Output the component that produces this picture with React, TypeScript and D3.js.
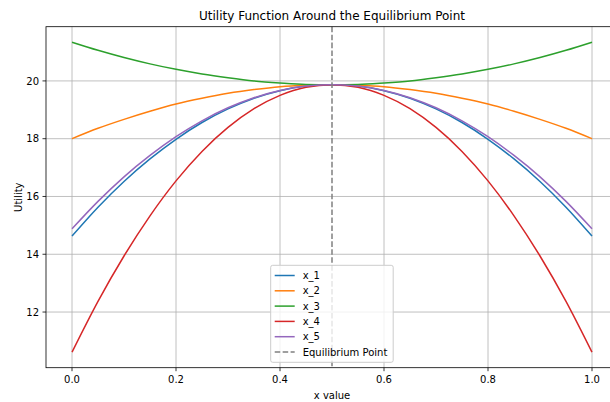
import React from "react";
import * as d3 from "d3";

const xValues = [0, 0.05, 0.1, 0.15, 0.2, 0.25, 0.3, 0.35, 0.4, 0.45, 0.5, 0.55, 0.6, 0.65, 0.7, 0.75, 0.8, 0.85, 0.9, 0.95, 1.0];

const x1 = [14.63, 15.63, 16.52, 17.30, 17.98, 18.56, 19.03, 19.40, 19.66, 19.82, 19.87, 19.82, 19.66, 19.40, 19.03, 18.56, 17.98, 17.30, 16.52, 15.63, 14.63];
const x2 = [18.00, 18.36, 18.67, 18.95, 19.20, 19.40, 19.57, 19.70, 19.80, 19.85, 19.87, 19.85, 19.80, 19.70, 19.57, 19.40, 19.20, 18.95, 18.67, 18.36, 18.00];
const x3 = [21.34, 21.06, 20.81, 20.59, 20.40, 20.24, 20.11, 20.00, 19.93, 19.88, 19.87, 19.88, 19.93, 20.00, 20.11, 20.24, 20.40, 20.59, 20.81, 21.06, 21.34];
const x4 = [10.61, 12.37, 13.94, 15.33, 16.54, 17.56, 18.39, 19.04, 19.50, 19.78, 19.87, 19.78, 19.50, 19.04, 18.39, 17.56, 16.54, 15.33, 13.94, 12.37, 10.61];
const x5 = [14.88, 15.83, 16.68, 17.42, 18.07, 18.62, 19.07, 19.42, 19.67, 19.82, 19.87, 19.82, 19.67, 19.42, 19.07, 18.62, 18.07, 17.42, 16.68, 15.83, 14.88];

const seriesNames = ["x_1", "x_2", "x_3", "x_4", "x_5"];
const seriesValues = [x1, x2, x3, x4, x5];
const seriesColors = ["#1f77b4", "#ff7f0e", "#2ca02c", "#d62728", "#9467bd"];

const equilibriumX = 0.5;
const equilibriumLabel = "Equilibrium Point";

const xTicks = [0, 0.2, 0.4, 0.6, 0.8, 1.0];
const yTicks = [12, 14, 16, 18, 20];

const title = "Utility Function Around the Equilibrium Point";
const xLabel = "x value";
const yLabel = "Utility";

const W = 610;
const H = 402;
const left = 46;
const right = 618;
const top = 26.7;
const bottom = 367.7;
const font = "DejaVu Sans";

export default function App() {
  const xMin = d3.min(xValues)!;
  const xMax = d3.max(xValues)!;
  const xr = xMax - xMin;
  const allY = seriesValues.flat();
  const yMin = d3.min(allY)!;
  const yMax = d3.max(allY)!;
  const yr = yMax - yMin;

  const xs = d3.scaleLinear().domain([xMin - 0.05 * xr, xMax + 0.05 * xr]).range([left, right]);
  const ys = d3.scaleLinear().domain([yMin - 0.05 * yr, yMax + 0.05 * yr]).range([bottom, top]);

  const line = d3
    .line<number>()
    .x((_, i) => xs(xValues[i]))
    .y((d) => ys(d))
    .curve(d3.curveMonotoneX);

  const legendX = 270.7;
  const legendY = 265.3;
  const legendW = 122.5;
  const legendH = 97;
  const rowY0 = 275.5;
  const rowStep = 15.3;
  const legendItems = [
    ...seriesNames.map((n, i) => ({ name: n, color: seriesColors[i], dash: undefined as string | undefined })),
    { name: equilibriumLabel, color: "#808080", dash: "5.55,2.4" },
  ];

  return (
    <svg
      width={W}
      height={H}
      style={{ position: "absolute", left: 0, top: 0, background: "#fff" }}
      fontFamily={font}
    >
      <rect x={0} y={0} width={W} height={H} fill="#fff" />
      {/* grid */}
      {xTicks.map((t) => (
        <line key={"gx" + t} x1={xs(t)} x2={xs(t)} y1={top} y2={bottom} stroke="#b0b0b0" strokeWidth={0.8} />
      ))}
      {yTicks.map((t) => (
        <line key={"gy" + t} x1={left} x2={right} y1={ys(t)} y2={ys(t)} stroke="#b0b0b0" strokeWidth={0.8} />
      ))}
      {/* series */}
      {seriesValues.map((vals, i) => (
        <path key={seriesNames[i]} d={line(vals) || ""} fill="none" stroke={seriesColors[i]} strokeWidth={1.5} />
      ))}
      {/* equilibrium */}
      <line
        x1={xs(equilibriumX)}
        x2={xs(equilibriumX)}
        y1={top}
        y2={bottom}
        stroke="#808080"
        strokeWidth={1.5}
        strokeDasharray="5.55,2.4"
      />
      {/* spines */}
      <rect x={left} y={top} width={right - left} height={bottom - top} fill="none" stroke="#000" strokeWidth={0.8} />
      {/* x ticks */}
      {xTicks.map((t) => (
        <g key={"tx" + t}>
          <line x1={xs(t)} x2={xs(t)} y1={bottom} y2={bottom + 3.5} stroke="#000" strokeWidth={0.8} />
          <text x={xs(t)} y={383} fontSize={10} textAnchor="middle" fill="#000">
            {t.toFixed(1)}
          </text>
        </g>
      ))}
      {/* y ticks */}
      {yTicks.map((t) => (
        <g key={"ty" + t}>
          <line x1={left - 3.5} x2={left} y1={ys(t)} y2={ys(t)} stroke="#000" strokeWidth={0.8} />
          <text x={39} y={ys(t) + 3.6} fontSize={10} textAnchor="end" fill="#000">
            {t}
          </text>
        </g>
      ))}
      {/* labels */}
      <text x={(left + right) / 2} y={399} fontSize={10} textAnchor="middle" fill="#000">
        {xLabel}
      </text>
      <text
        transform={`translate(21.5,${(top + bottom) / 2}) rotate(-90)`}
        fontSize={10}
        textAnchor="middle"
        fill="#000"
      >
        {yLabel}
      </text>
      <text x={(left + right) / 2} y={20} fontSize={12} textAnchor="middle" fill="#000">
        {title}
      </text>
      {/* legend */}
      <rect
        x={legendX}
        y={legendY}
        width={legendW}
        height={legendH}
        rx={2}
        ry={2}
        fill="#fff"
        fillOpacity={0.8}
        stroke="#cccccc"
        strokeWidth={1}
      />
      {legendItems.map((it, i) => {
        const y = rowY0 + i * rowStep;
        return (
          <g key={it.name}>
            <line
              x1={legendX + 4}
              x2={legendX + 24}
              y1={y}
              y2={y}
              stroke={it.color}
              strokeWidth={1.5}
              strokeDasharray={it.dash}
            />
            <text x={legendX + 32} y={y + 3.6} fontSize={10} fill="#000">
              {it.name}
            </text>
          </g>
        );
      })}
    </svg>
  );
}
